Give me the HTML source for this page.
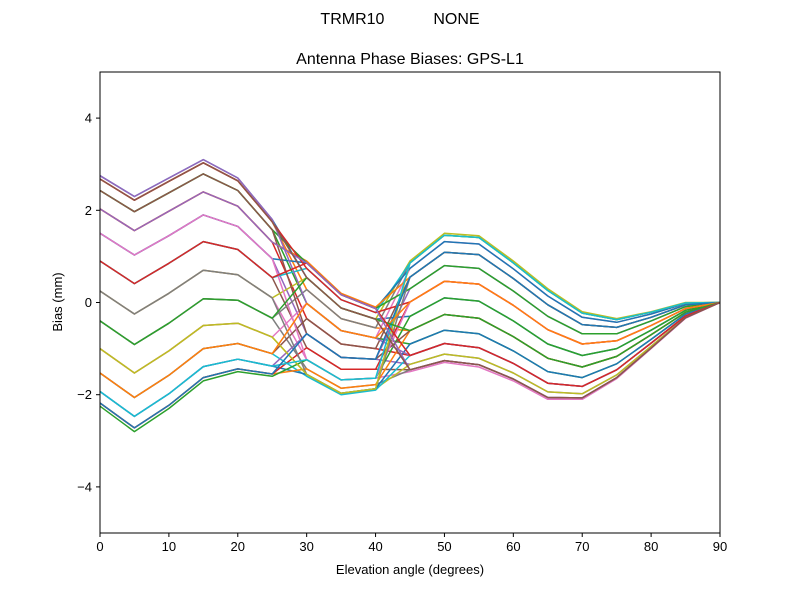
<!DOCTYPE html>
<html><head><meta charset="utf-8">
<style>
body{margin:0;background:#fff;}
svg{display:block;font-family:"Liberation Sans","DejaVu Sans",sans-serif;}
</style></head>
<body>
<svg id="chart" width="800" height="600" viewBox="0 0 800 600">
<rect width="800" height="600" fill="#fff"/>
<text x="400" y="24" text-anchor="middle" font-size="16" xml:space="preserve">TRMR10           NONE</text>
<text x="410" y="64" text-anchor="middle" font-size="16">Antenna Phase Biases: GPS-L1</text>
<g id="lines"></g>
<g id="xticks"></g>
<g id="yticks"></g>
<rect x="100" y="72" width="620" height="461" fill="none" stroke="#000" stroke-width="1"/>
<text x="410" y="574" text-anchor="middle" font-size="13">Elevation angle (degrees)</text>
<text x="0" y="0" transform="translate(62,302) rotate(-90)" text-anchor="middle" font-size="13">Bias (mm)</text>
</svg>
<script>
const elevations = [0,5,10,15,20,25,30,35,40,45,50,55,60,65,70,75,80,85,90];
const xTicks = [0,10,20,30,40,50,60,70,80,90];
const yTicks = [-4,-2,0,2,4];
const yTickLabels = ["\u22124","\u22122","0","2","4"];
const biases = [
[2.75,2.3,2.7,3.1,2.7,1.8,0.54,-0.12,-0.36,-0.3,0.1,0.03,-0.4,-0.9,-1.15,-1.0,-0.6,-0.17,0],
[2.68,2.22,2.63,3.03,2.64,1.75,0.28,-0.35,-0.55,-0.61,-0.26,-0.34,-0.74,-1.21,-1.4,-1.17,-0.7,-0.21,0],
[2.43,1.97,2.38,2.79,2.43,1.58,-0.02,-0.61,-0.77,-0.9,-0.6,-0.68,-1.05,-1.5,-1.63,-1.33,-0.8,-0.25,0],
[2.03,1.56,1.98,2.4,2.09,1.31,-0.35,-0.9,-1.0,-1.15,-0.89,-0.98,-1.32,-1.75,-1.82,-1.46,-0.88,-0.29,0],
[1.5,1.03,1.45,1.9,1.65,0.95,-0.68,-1.19,-1.23,-1.34,-1.12,-1.21,-1.53,-1.94,-1.98,-1.57,-0.95,-0.32,0],
[0.9,0.41,0.85,1.32,1.15,0.54,-0.98,-1.45,-1.45,-1.46,-1.26,-1.35,-1.66,-2.06,-2.07,-1.63,-0.99,-0.33,0],
[0.25,-0.25,0.2,0.7,0.6,0.1,-1.24,-1.68,-1.64,-1.5,-1.3,-1.4,-1.7,-2.1,-2.1,-1.65,-1.0,-0.34,0],
[-0.4,-0.91,-0.45,0.08,0.05,-0.34,-1.44,-1.86,-1.78,-1.46,-1.26,-1.35,-1.66,-2.06,-2.07,-1.63,-0.99,-0.33,0],
[-1.0,-1.53,-1.05,-0.5,-0.45,-0.75,-1.56,-1.97,-1.87,-1.34,-1.12,-1.21,-1.53,-1.94,-1.98,-1.57,-0.95,-0.32,0],
[-1.53,-2.06,-1.58,-1.0,-0.89,-1.11,-1.6,-2.0,-1.9,-1.15,-0.89,-0.98,-1.32,-1.75,-1.82,-1.46,-0.88,-0.29,0],
[-1.93,-2.47,-1.98,-1.39,-1.23,-1.38,-1.56,-1.97,-1.87,-0.9,-0.6,-0.68,-1.05,-1.5,-1.63,-1.33,-0.8,-0.25,0],
[-2.18,-2.72,-2.23,-1.63,-1.44,-1.55,-1.44,-1.86,-1.78,-0.61,-0.26,-0.34,-0.74,-1.21,-1.4,-1.17,-0.7,-0.21,0],
[-2.25,-2.8,-2.3,-1.7,-1.5,-1.6,-1.24,-1.68,-1.64,-0.3,0.1,0.03,-0.4,-0.9,-1.15,-1.0,-0.6,-0.17,0],
[-2.18,-2.72,-2.23,-1.63,-1.44,-1.55,-0.98,-1.45,-1.45,0.01,0.46,0.4,-0.06,-0.59,-0.9,-0.83,-0.5,-0.13,0],
[-1.93,-2.47,-1.98,-1.39,-1.23,-1.38,-0.68,-1.19,-1.23,0.3,0.8,0.74,0.25,-0.3,-0.68,-0.68,-0.4,-0.09,0],
[-1.53,-2.06,-1.58,-1.0,-0.89,-1.11,-0.35,-0.9,-1.0,0.55,1.09,1.04,0.52,-0.05,-0.48,-0.54,-0.32,-0.05,0],
[-1.0,-1.53,-1.05,-0.5,-0.45,-0.75,-0.02,-0.61,-0.77,0.74,1.32,1.27,0.73,0.14,-0.32,-0.43,-0.25,-0.02,0],
[-0.4,-0.91,-0.45,0.08,0.05,-0.34,0.28,-0.35,-0.55,0.86,1.46,1.41,0.86,0.26,-0.23,-0.37,-0.21,-0.01,0],
[0.25,-0.25,0.2,0.7,0.6,0.1,0.54,-0.12,-0.36,0.9,1.5,1.45,0.9,0.3,-0.2,-0.35,-0.2,0,0],
[0.9,0.41,0.85,1.32,1.15,0.54,0.74,0.06,-0.22,0.86,1.46,1.41,0.86,0.26,-0.23,-0.37,-0.21,-0.01,0],
[1.5,1.03,1.45,1.9,1.65,0.95,0.86,0.17,-0.13,0.74,1.32,1.27,0.73,0.14,-0.32,-0.43,-0.25,-0.02,0],
[2.03,1.56,1.98,2.4,2.09,1.31,0.9,0.2,-0.1,0.55,1.09,1.04,0.52,-0.05,-0.48,-0.54,-0.32,-0.05,0],
[2.43,1.97,2.38,2.79,2.43,1.58,0.86,0.17,-0.13,0.3,0.8,0.74,0.25,-0.3,-0.68,-0.68,-0.4,-0.09,0],
[2.68,2.22,2.63,3.03,2.64,1.75,0.74,0.06,-0.22,0.01,0.46,0.4,-0.06,-0.59,-0.9,-0.83,-0.5,-0.13,0],
[2.75,2.3,2.7,3.1,2.7,1.8,-0.02,-0.61,-0.77,-1.15,-0.89,-0.98,-1.32,-1.75,-1.82,-1.46,-0.88,-0.29,0],
[2.43,1.97,2.38,2.79,2.43,1.58,-0.68,-1.19,-1.23,-0.61,-0.26,-0.34,-0.74,-1.21,-1.4,-1.17,-0.7,-0.21,0],
[1.5,1.03,1.45,1.9,1.65,0.95,-1.24,-1.68,-1.64,0.01,0.46,0.4,-0.06,-0.59,-0.9,-0.83,-0.5,-0.13,0],
[0.25,-0.25,0.2,0.7,0.6,0.1,-1.56,-1.97,-1.87,0.55,1.09,1.04,0.52,-0.05,-0.48,-0.54,-0.32,-0.05,0],
[-1.0,-1.53,-1.05,-0.5,-0.45,-0.75,-1.56,-1.97,-1.87,0.86,1.46,1.41,0.86,0.26,-0.23,-0.37,-0.21,-0.01,0],
[-1.93,-2.47,-1.98,-1.39,-1.23,-1.38,-1.24,-1.68,-1.64,0.86,1.46,1.41,0.86,0.26,-0.23,-0.37,-0.21,-0.01,0],
[-2.18,-2.72,-2.23,-1.63,-1.44,-1.55,-0.68,-1.19,-1.23,0.55,1.09,1.04,0.52,-0.05,-0.48,-0.54,-0.32,-0.05,0],
[-1.53,-2.06,-1.58,-1.0,-0.89,-1.11,-0.02,-0.61,-0.77,0.01,0.46,0.4,-0.06,-0.59,-0.9,-0.83,-0.5,-0.13,0],
[-0.4,-0.91,-0.45,0.08,0.05,-0.34,0.54,-0.12,-0.36,-0.61,-0.26,-0.34,-0.74,-1.21,-1.4,-1.17,-0.7,-0.21,0],
[0.9,0.41,0.85,1.32,1.15,0.54,0.86,0.17,-0.13,-1.15,-0.89,-0.98,-1.32,-1.75,-1.82,-1.46,-0.88,-0.29,0],
[2.03,1.56,1.98,2.4,2.09,1.31,0.86,0.17,-0.13,-1.46,-1.26,-1.35,-1.66,-2.06,-2.07,-1.63,-0.99,-0.33,0],
[2.68,2.22,2.63,3.03,2.64,1.75,0.54,-0.12,-0.36,-1.46,-1.26,-1.35,-1.66,-2.06,-2.07,-1.63,-0.99,-0.33,0]
];
const colors = ["#1f77b4","#ff7f0e","#2ca02c","#d62728","#9467bd","#8c564b","#e377c2","#7f7f7f","#bcbd22","#17becf"];

const NS = "http://www.w3.org/2000/svg";
const X0=100, X1=720, Y0=533, Y1=72;
function xScale(v){return X0 + (v-0)/(90-0)*(X1-X0);}
function yScale(v){return Y0 - (v-(-5))/(5-(-5))*(Y0-Y1);}

const gl = document.getElementById('lines');
biases.forEach((s,i)=>{
  const p = document.createElementNS(NS,'polyline');
  p.setAttribute('points', s.map((v,j)=>xScale(elevations[j]).toFixed(1)+','+yScale(v).toFixed(1)).join(' '));
  p.setAttribute('fill','none');
  p.setAttribute('stroke', colors[i%colors.length]);
  p.setAttribute('stroke-width','1.5');
  p.setAttribute('stroke-linejoin','round');
  
  
  gl.appendChild(p);
});

const gx = document.getElementById('xticks');
xTicks.forEach(t=>{
  const x = xScale(t);
  const l = document.createElementNS(NS,'line');
  l.setAttribute('x1',x);l.setAttribute('x2',x);l.setAttribute('y1',Y0);l.setAttribute('y2',Y0+4);
  l.setAttribute('stroke','#000');
  
  
  gx.appendChild(l);
  const tx = document.createElementNS(NS,'text');
  tx.setAttribute('x',x);tx.setAttribute('y',Y0+18);tx.setAttribute('text-anchor','middle');tx.setAttribute('font-size','13');
  tx.textContent = t;
  
  
  gx.appendChild(tx);
});
const gy = document.getElementById('yticks');
yTicks.forEach((t,i)=>{
  const y = yScale(t);
  const l = document.createElementNS(NS,'line');
  l.setAttribute('x1',X0-4);l.setAttribute('x2',X0);l.setAttribute('y1',y);l.setAttribute('y2',y);
  l.setAttribute('stroke','#000');
  
  
  gy.appendChild(l);
  const tx = document.createElementNS(NS,'text');
  tx.setAttribute('x',X0-8);tx.setAttribute('y',y+4.5);tx.setAttribute('text-anchor','end');tx.setAttribute('font-size','13');
  tx.textContent = yTickLabels[i];
  
  
  gy.appendChild(tx);
});
</script>
</body></html>
